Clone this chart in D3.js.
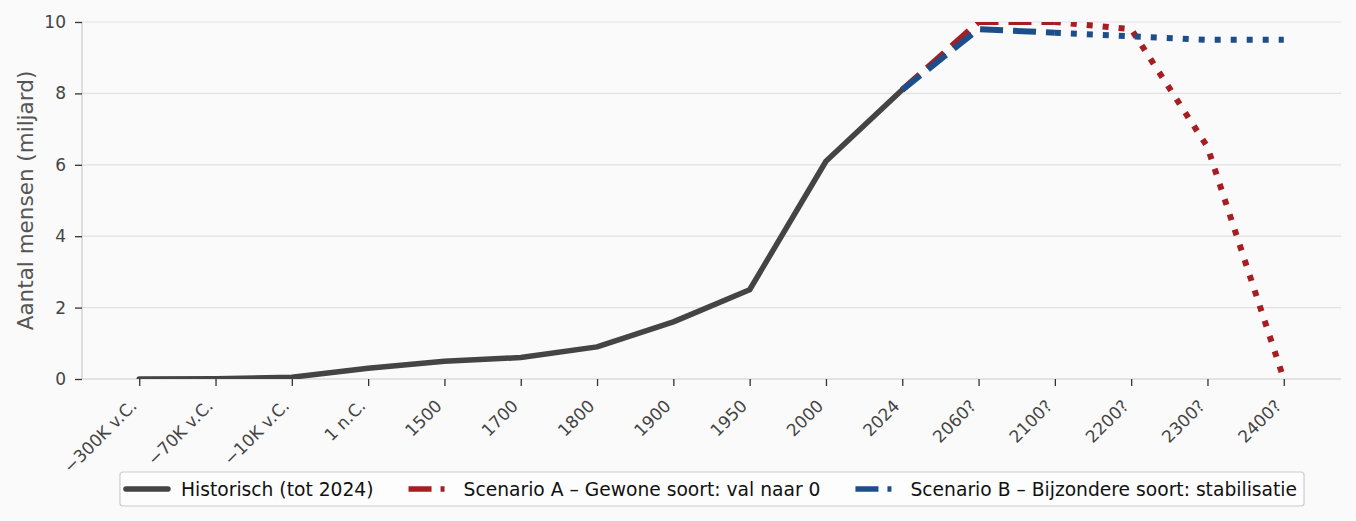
<!DOCTYPE html>
<html lang="nl">
<head>
<meta charset="UTF-8">
<title>Aantal mensen</title>
<script src="https://cdn.jsdelivr.net/npm/d3@7"></script>
<style>
  body { margin: 0; background: #fafafa; }
  text { font-family: "DejaVu Sans", sans-serif; }
</style>
</head>
<body>
<div id="chart"></div>
<script>
const labels = ["\u2212300K v.C.", "\u221270K v.C.", "\u221210K v.C.", "1 n.C.", "1500", "1700", "1800", "1900",
                "1950", "2000", "2024", "2060?", "2100?", "2200?", "2300?", "2400?"];
const histLabels = labels.slice(0, 11);
const histValues = [0.001, 0.01, 0.05, 0.3, 0.5, 0.6, 0.9, 1.6, 2.5, 6.1, 8.1];
const scenLabels = ["2024", "2060?", "2100?", "2200?", "2300?", "2400?"];
const scenA = [8.1, 10.0, 10.0, 9.8, 6.5, 0.0];
const scenB = [8.1, 9.8, 9.7, 9.6, 9.5, 9.5];
const yTicks = [0, 2, 4, 6, 8, 10];
const seriesNames = ["Historisch (tot 2024)", "Scenario A \u2013 Gewone soort: val naar 0", "Scenario B \u2013 Bijzondere soort: stabilisatie"];

const width = 1356, height = 521;
const marginLeft = 82, marginRight = 15, marginTop = 22, marginBottom = 142;
const colHist = "#444444", colA = "#a61e22", colB = "#1c4f8a";

const x = d3.scalePoint()
    .domain(labels)
    .range([marginLeft, width - marginRight])
    .padding(0.75);

const y = d3.scaleLinear()
    .domain([0, 10])
    .range([height - marginBottom, marginTop]);

const svg = d3.select("#chart").append("svg")
    .attr("width", width)
    .attr("height", height)
    .style("background", "#fafafa");

svg.append("defs").append("clipPath").attr("id", "plot")
  .append("rect")
    .attr("x", marginLeft).attr("y", marginTop)
    .attr("width", width - marginRight - marginLeft)
    .attr("height", height - marginBottom - marginTop);

// grid
svg.append("g")
    .attr("stroke", "#e2e2e2")
    .attr("stroke-width", 1.2)
  .selectAll("line")
  .data(yTicks.filter(d => d > 0))
  .join("line")
    .attr("x1", marginLeft).attr("x2", width - marginRight)
    .attr("y1", d => y(d)).attr("y2", d => y(d));

// y axis
svg.append("g")
    .attr("transform", `translate(${marginLeft},0)`)
    .call(d3.axisLeft(y).tickValues(yTicks).tickSize(7).tickPadding(9))
    .call(g => g.select(".domain").attr("stroke", "#cccccc").attr("stroke-width", 1.2).attr("d", `M0,${y(0)}V${y(10)}`))
    .call(g => g.selectAll(".tick line").attr("stroke", "#333").attr("stroke-width", 1.3))
    .call(g => g.selectAll(".tick text").attr("fill", "#444").attr("font-size", 17));

// x axis
svg.append("g")
    .attr("transform", `translate(0,${y(0)})`)
    .call(d3.axisBottom(x).tickSize(7))
    .call(g => g.select(".domain").attr("stroke", "#cccccc").attr("stroke-width", 1.2).attr("d", `M${marginLeft},0H${width - marginRight}`))
    .call(g => g.selectAll(".tick line").attr("stroke", "#333").attr("stroke-width", 1.3))
    .call(g => g.selectAll(".tick text")
        .attr("fill", "#444")
        .attr("font-size", 17)
        .attr("text-anchor", "end")
        .attr("x", 0).attr("y", 0).attr("dy", 0)
        .attr("transform", "translate(-2,28) rotate(-45)"));

svg.append("text")
    .attr("transform", `translate(33,${(y(0) + y(10)) / 2}) rotate(-90)`)
    .attr("text-anchor", "middle")
    .attr("fill", "#555")
    .attr("font-size", 21.5)
    .text("Aantal mensen (miljard)");

const line = d3.line()
    .x(d => x(d[0]))
    .y(d => y(d[1]));

const plot = svg.append("g").attr("clip-path", "url(#plot)").attr("fill", "none");

plot.append("path")
    .attr("d", line(histLabels.map((l, i) => [l, histValues[i]])))
    .attr("stroke", colHist)
    .attr("stroke-width", 5.5)
    .attr("stroke-linejoin", "round")
    .attr("stroke-linecap", "round");

// scenarios: dashed until 2100?, dotted afterwards
[[scenA, colA], [scenB, colB]].forEach(([vals, col]) => {
  const pts = scenLabels.map((l, i) => [l, vals[i]]);
  plot.append("path")
      .attr("d", line(pts.slice(0, 3)))
      .attr("stroke", col)
      .attr("stroke-width", 6)
      .attr("stroke-dasharray", "23,10");
  plot.append("path")
      .attr("d", line(pts.slice(2)))
      .attr("stroke", col)
      .attr("stroke-width", 6)
      .attr("stroke-dasharray", "6,10");
});

// legend
const legend = svg.append("g");
const box = legend.append("rect")
    .attr("rx", 3)
    .attr("fill", "#fdfdfd")
    .attr("stroke", "#cccccc")
    .attr("stroke-width", 1.2);

const items = [
  {name: seriesNames[0], color: colHist, dash: null},
  {name: seriesNames[1], color: colA, dash: "23,9,4,40"},
  {name: seriesNames[2], color: colB, dash: "23,9,4,40"}
];
const ly = 489;
const gap = 35;
let cx = 0;
items.forEach(it => {
  const g = legend.append("g").attr("class", "item").attr("transform", `translate(${cx},0)`);
  g.append("line")
      .attr("x1", 0).attr("x2", 42)
      .attr("y1", ly).attr("y2", ly)
      .attr("stroke", it.color)
      .attr("stroke-width", 5.5)
      .attr("stroke-linecap", it.dash ? "butt" : "round")
      .attr("stroke-dasharray", it.dash);
  const t = g.append("text")
      .attr("x", 55).attr("y", ly)
      .attr("dy", "0.36em")
      .attr("font-size", 18.7)
      .attr("fill", "#111")
      .text(it.name);
  cx += 55 + t.node().getComputedTextLength() + gap;
});
const totalW = cx - gap;
const legendX = (marginLeft + width - marginRight) / 2 - totalW / 2;
legend.selectAll("g.item").attr("transform", function () {
  return `translate(${legendX},0) ${d3.select(this).attr("transform")}`;
});
box.attr("x", legendX - 6).attr("y", 472)
   .attr("width", totalW + 13).attr("height", 34);
</script>
</body>
</html>
